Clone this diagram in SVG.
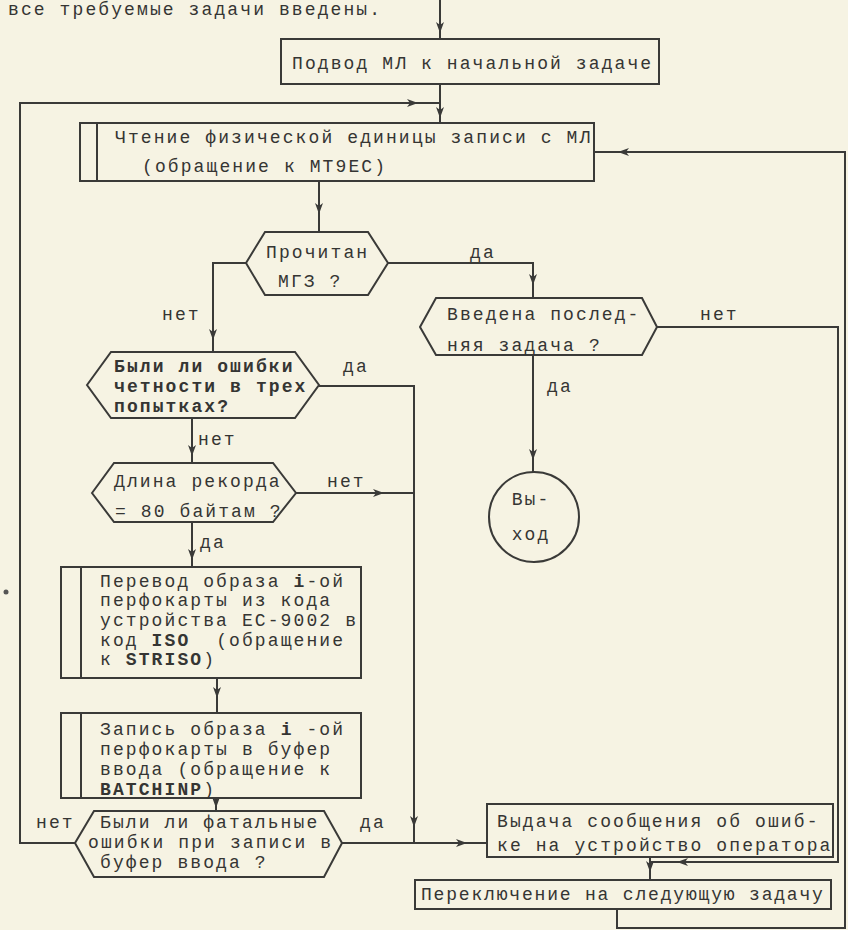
<svg xmlns="http://www.w3.org/2000/svg" width="848" height="930" viewBox="0 0 848 930">
<style>
.t{font-family:"Liberation Mono","DejaVu Sans Mono",monospace;font-size:18px;letter-spacing:2.1px;fill:#353533}
.b{font-weight:bold}
.s{fill:none;stroke:#3a3a38;stroke-width:2}
.n{fill:none;stroke:#3a3a38;stroke-width:2}
.ah{fill:#3a3a38}
</style>
<defs>
<path id="ah" d="M0,0 L-4,-11 L0,-8 L4,-11 Z"/>
</defs>
<rect x="0" y="0" width="848" height="930" fill="#f6f3e3"/>
<text class="t" x="8" y="15">все требуемые задачи введены.</text>
<circle cx="6" cy="592" r="2.5" fill="#555"/>

<g id="connectors">
<path class="s" d="M440,0 V39"/>
<path class="s" d="M440,84 V123"/>
<path class="s" d="M75,843 H20 V103 H440"/>
<path class="s" d="M319,181 V232"/>
<path class="s" d="M388,263 H533 V298"/>
<path class="s" d="M246,263 H213 V352"/>
<path class="s" d="M657,327 H838 V862 H650"/>
<path class="s" d="M533,355 V472"/>
<path class="s" d="M319,386 H414 V843"/>
<path class="s" d="M192,418 V463"/>
<path class="s" d="M296,493 H414"/>
<path class="s" d="M192,522 V567"/>
<path class="s" d="M217,678 V713"/>
<path class="s" d="M216,798 V811"/>
<path class="s" d="M342,843 H487"/>
<path class="s" d="M650,857 V880"/>
<path class="s" d="M617,909 V928 H845 V152 H594"/>
<use href="#ah" class="ah" transform="translate(440,33)"/>
<use href="#ah" class="ah" transform="translate(440,118)"/>
<use href="#ah" class="ah" transform="translate(418,103) rotate(-90)"/>
<use href="#ah" class="ah" transform="translate(319,214)"/>
<use href="#ah" class="ah" transform="translate(533,285)"/>
<use href="#ah" class="ah" transform="translate(213,340)"/>
<use href="#ah" class="ah" transform="translate(677,862) rotate(90)"/>
<use href="#ah" class="ah" transform="translate(533,460)"/>
<use href="#ah" class="ah" transform="translate(414,827)"/>
<use href="#ah" class="ah" transform="translate(192,456)"/>
<use href="#ah" class="ah" transform="translate(384,493) rotate(-90)"/>
<use href="#ah" class="ah" transform="translate(192,560)"/>
<use href="#ah" class="ah" transform="translate(217,698)"/>
<use href="#ah" class="ah" transform="translate(216,808)"/>
<use href="#ah" class="ah" transform="translate(467,843) rotate(-90)"/>
<use href="#ah" class="ah" transform="translate(650,872)"/>
<use href="#ah" class="ah" transform="translate(618,152) rotate(90)"/>
<text class="t" x="470" y="258">да</text>
<text class="t" x="162" y="320">нет</text>
<text class="t" x="700" y="320">нет</text>
<text class="t" x="547" y="392">да</text>
<text class="t" x="343" y="372">да</text>
<text class="t" x="198" y="445">нет</text>
<text class="t" x="327" y="487">нет</text>
<text class="t" x="200" y="548">да</text>
<text class="t" x="36" y="828">нет</text>
<text class="t" x="360" y="828">да</text>
</g>

<g id="start">
<rect class="n" x="281" y="39" width="378" height="45"/>
<text class="t" x="292" y="69">Подвод МЛ к начальной задаче</text>
</g>

<g id="read">
<rect class="n" x="80" y="123" width="514" height="58"/>
<line class="n" x1="97" y1="123" x2="97" y2="181"/>
<text class="t" x="115" y="143">Чтение физической единицы записи с МЛ</text>
<text class="t" x="142" y="172">(обращение к МТ9ЕС)</text>
</g>

<g id="dec-mgz">
<polygon class="n" points="246,263 265,232 368,232 388,263 368,295 265,295"/>
<text class="t" x="266" y="258">Прочитан</text>
<text class="t" x="278" y="287">МГЗ ?</text>
</g>

<g id="dec-last">
<polygon class="n" points="420,327 436,298 642,298 657,327 642,355 436,355"/>
<text class="t" x="447" y="320">Введена послед-</text>
<text class="t" x="447" y="351">няя задача ?</text>
</g>

<g id="exit">
<circle class="n" cx="534" cy="517" r="45"/>
<text class="t" x="531" y="505" text-anchor="middle">Вы-</text>
<text class="t" x="531" y="540" text-anchor="middle">ход</text>
</g>

<g id="dec-parity">
<polygon class="n" points="87,385 111,352 295,352 319,385 295,418 111,418"/>
<text class="t b" x="114" y="372">Были ли ошибки</text>
<text class="t b" x="114" y="392">четности в трех</text>
<text class="t b" x="114" y="412">попытках?</text>
</g>

<g id="dec-length">
<polygon class="n" points="92,493 114,463 273,463 296,493 273,522 114,522"/>
<text class="t" x="114" y="487">Длина рекорда</text>
<text class="t" x="115" y="517">= 80 байтам ?</text>
</g>

<g id="convert">
<rect class="n" x="61" y="567" width="300" height="111"/>
<line class="n" x1="81" y1="567" x2="81" y2="678"/>
<text class="t" x="100" y="587">Перевод образа <tspan class="b">i</tspan>-ой</text>
<text class="t" x="100" y="606">перфокарты из кода</text>
<text class="t" x="100" y="626">устройства ЕС-9002 в</text>
<text class="t" x="100" y="646" xml:space="preserve">код <tspan class="b">ISO</tspan>  (обращение</text>
<text class="t" x="100" y="665">к <tspan class="b">STRISO</tspan>)</text>
</g>

<g id="write">
<rect class="n" x="61" y="713" width="300" height="85"/>
<line class="n" x1="81" y1="713" x2="81" y2="798"/>
<text class="t" x="100" y="735">Запись образа <tspan class="b">i</tspan> -ой</text>
<text class="t" x="100" y="755">перфокарты в буфер</text>
<text class="t" x="100" y="775">ввода (обращение к</text>
<text class="t" x="100" y="795"><tspan class="b">BATCHINP</tspan>)</text>
</g>

<g id="dec-fatal">
<polygon class="n" points="75,843 94,811 324,811 342,843 324,877 94,877"/>
<text class="t" x="100" y="828">Были ли фатальные</text>
<text class="t" x="88" y="848">ошибки при записи в</text>
<text class="t" x="100" y="868">буфер ввода ?</text>
</g>

<g id="message">
<rect class="n" x="487" y="804" width="346" height="53"/>
<text class="t" x="497" y="827">Выдача сообщения об ошиб-</text>
<text class="t" x="497" y="851">ке на устройство оператора</text>
</g>

<g id="next">
<rect class="n" x="415" y="880" width="416" height="29"/>
<text class="t" x="421" y="900" textLength="404" lengthAdjust="spacing">Переключение на следующую задачу</text>
</g>
</svg>
